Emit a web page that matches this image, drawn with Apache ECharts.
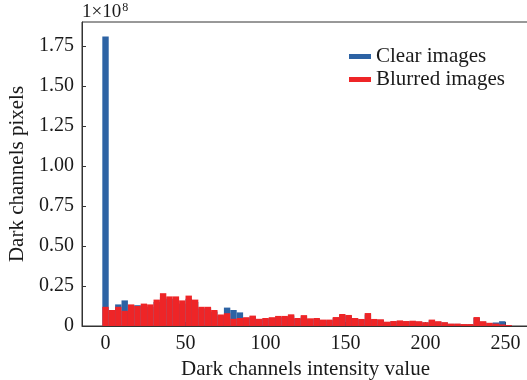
<!DOCTYPE html>
<html>
<head>
<meta charset="utf-8">
<script src="https://cdn.jsdelivr.net/npm/echarts@6/dist/echarts.min.js"></script>
<style>
  html, body { margin: 0; padding: 0; background: #fff; }
  #chart { width: 527px; height: 380px; }
</style>
</head>
<body>
<div id="chart"></div>
<script>
// histogram counts per bin (units of 1e8), 64 bins of width 4
const BIN_WIDTH = 4;
const clearImages = [
  1.81, 0.09, 0.135, 0.16, 0.13, 0.13, 0.13, 0.12, 0.15, 0.18, 0.17, 0.16,
  0.14, 0.17, 0.15, 0.11, 0.11, 0.09, 0.065, 0.115, 0.10, 0.085, 0.05, 0.06,
  0.04, 0.045, 0.05, 0.055, 0.055, 0.065, 0.045, 0.06, 0.042, 0.045, 0.035, 0.035,
  0.05, 0.068, 0.062, 0.045, 0.04, 0.072, 0.04, 0.038, 0.024, 0.028, 0.03, 0.028,
  0.03, 0.026, 0.021, 0.035, 0.026, 0.021, 0.013, 0.013, 0.01, 0.01, 0.05, 0.026,
  0.018, 0.022, 0.03, 0.005
];
const blurredImages = [
  0.12, 0.10, 0.12, 0.095, 0.135, 0.125, 0.14, 0.135, 0.165, 0.205, 0.185, 0.185,
  0.16, 0.19, 0.165, 0.12, 0.12, 0.10, 0.072, 0.08, 0.045, 0.05, 0.055, 0.065,
  0.045, 0.05, 0.055, 0.063, 0.063, 0.073, 0.05, 0.068, 0.048, 0.05, 0.04, 0.04,
  0.056, 0.075, 0.069, 0.05, 0.044, 0.081, 0.044, 0.042, 0.027, 0.031, 0.035, 0.031,
  0.033, 0.03, 0.024, 0.04, 0.03, 0.024, 0.015, 0.015, 0.012, 0.012, 0.056, 0.03,
  0.02, 0.015, 0.01, 0.006
];
const yTicks = [0, 0.25, 0.5, 0.75, 1.0, 1.25, 1.5, 1.75];

const FONT = '"Liberation Serif", "DejaVu Serif", serif';
const TXT = '#1a1a1a';

function toBins(values) {
  return values.map((v, i) => [i * BIN_WIDTH - BIN_WIDTH / 2, i * BIN_WIDTH + BIN_WIDTH / 2, v]);
}

function renderBar(params, api) {
  const p0 = api.coord([api.value(0), api.value(2)]);
  const p1 = api.coord([api.value(1), 0]);
  return {
    type: 'rect',
    shape: { x: p0[0], y: p0[1], width: p1[0] - p0[0], height: p1[1] - p0[1] },
    style: { fill: api.visual('color') }
  };
}

const chart = echarts.init(document.getElementById('chart'));
chart.setOption({
  animation: false,
  textStyle: { fontFamily: FONT, color: TXT },
  grid: {
    left: 82, top: 22, bottom: 54, right: -2,
    outerBoundsMode: 'none', containLabel: false,
    show: true, borderColor: '#333', borderWidth: 1
  },
  legend: {
    orient: 'vertical',
    left: 344, top: 41,
    icon: 'rect',
    itemWidth: 22, itemHeight: 5, itemGap: 2,
    textStyle: { fontFamily: FONT, fontSize: 21, color: TXT, lineHeight: 21 },
    data: ['Clear images', 'Blurred images']
  },
  graphic: [{
    type: 'text',
    left: 82, top: 2,
    style: {
      text: '{a|1×10}{b|8}',
      rich: {
        a: { fontFamily: FONT, fontSize: 19, fill: TXT },
        b: { fontFamily: FONT, fontSize: 12, fill: TXT, verticalAlign: 'top', padding: [0, 0, 8, 1] }
      }
    }
  }],
  xAxis: {
    type: 'value',
    min: -14.7, max: 264.7,
    axisLine: { show: true, lineStyle: { color: '#333', width: 1 } },
    axisTick: { show: true, inside: true, length: 4, lineStyle: { color: '#333' } },
    axisLabel: {
      fontFamily: FONT, fontSize: 20, color: TXT, margin: 8,
      showMinLabel: false, showMaxLabel: false
    },
    splitLine: { show: false },
    name: 'Dark channels intensity value',
    nameLocation: 'middle', nameGap: 23,
    nameTextStyle: { fontFamily: FONT, fontSize: 21, color: TXT }
  },
  yAxis: {
    type: 'value',
    min: 0, max: 1.9, interval: 0.25,
    axisLine: { show: true, onZero: false, lineStyle: { color: '#333', width: 1 } },
    axisTick: { show: true, inside: true, length: 4, lineStyle: { color: '#333' } },
    axisLabel: {
      fontFamily: FONT, fontSize: 20, color: TXT, margin: 8,
      showMaxLabel: false,
      formatter: v => (yTicks.indexOf(v) < 0 ? '' : (v === 0 ? '0' : v.toFixed(2)))
    },
    splitLine: { show: false },
    name: 'Dark channels pixels',
    nameLocation: 'middle', nameGap: 46,
    nameTextStyle: { fontFamily: FONT, fontSize: 21, color: TXT }
  },
  series: [
    {
      name: 'Clear images',
      type: 'custom',
      renderItem: renderBar,
      itemStyle: { color: '#2d63a4' },
      encode: { x: [0, 1], y: 2 },
      data: toBins(clearImages)
    },
    {
      name: 'Blurred images',
      type: 'custom',
      renderItem: renderBar,
      itemStyle: { color: '#ee2527' },
      encode: { x: [0, 1], y: 2 },
      data: toBins(blurredImages)
    }
  ]
});
</script>
</body>
</html>
